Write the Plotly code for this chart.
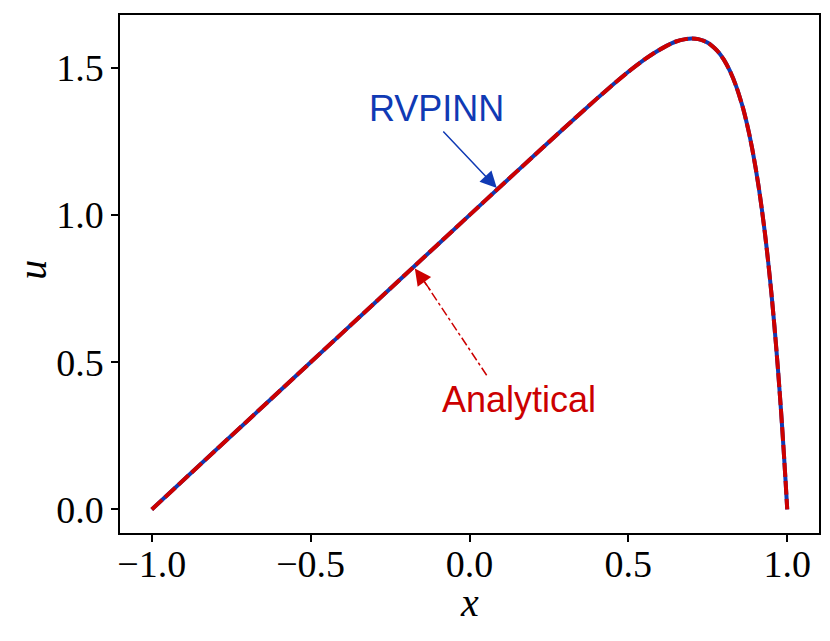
import plotly.graph_objects as go

# Values
x_vals = [-1.0, -0.8, -0.6, -0.4, -0.2, 0.0, 0.1, 0.2, 0.3, 0.4, 0.45, 0.5, 0.55, 0.58,
          0.62, 0.65, 0.68, 0.70, 0.72, 0.75, 0.78, 0.80, 0.82, 0.84, 0.86, 0.87, 0.88,
          0.89, 0.90, 0.91, 0.92, 0.93, 0.94, 0.95, 0.96, 0.97, 0.98, 0.985, 0.99, 0.995, 1.0]
u_analytical = [0.0, 0.2, 0.4, 0.6, 0.8, 1.0, 1.1, 1.199, 1.298, 1.395, 1.442, 1.487, 1.528, 1.550,
                1.575, 1.590, 1.598, 1.600, 1.598, 1.586, 1.558, 1.529, 1.489, 1.436, 1.367, 1.325, 1.278,
                1.224, 1.164, 1.097, 1.021, 0.937, 0.842, 0.737, 0.619, 0.488, 0.343, 0.264, 0.180, 0.093, 0.0]
u_rvpinn = [0.0, 0.2, 0.4, 0.6, 0.8, 1.0, 1.1, 1.199, 1.298, 1.395, 1.442, 1.487, 1.528, 1.550,
            1.575, 1.590, 1.598, 1.600, 1.598, 1.586, 1.558, 1.529, 1.489, 1.436, 1.367, 1.325, 1.278,
            1.224, 1.164, 1.097, 1.021, 0.937, 0.842, 0.737, 0.619, 0.488, 0.343, 0.264, 0.180, 0.093, 0.0]

x_ticks = [-1.0, -0.5, 0.0, 0.5, 1.0]
y_ticks = [0.0, 0.5, 1.0, 1.5]

RED = "rgb(204,0,0)"
BLUE = "rgb(16,58,180)"
SERIF = "Liberation Serif, DejaVu Serif, serif"
SANS = "Liberation Sans, Arial, sans-serif"

fig = go.Figure()
fig.add_trace(go.Scatter(x=x_vals, y=u_rvpinn, mode="lines", name="RVPINN",
                         line=dict(color=BLUE, width=4, shape="spline", smoothing=0.6)))
fig.add_trace(go.Scatter(x=x_vals, y=u_analytical, mode="lines", name="Analytical",
                         line=dict(color=RED, width=4, shape="spline", smoothing=0.6,
                                   dash="14px,4px")))

# RVPINN label and arrow
fig.add_annotation(x=-0.105, y=1.364, text="RVPINN", showarrow=False,
                   font=dict(family=SANS, size=36, color=BLUE))
fig.add_annotation(x=0.086, y=1.092, ax=-0.087, ay=1.289, axref="x", ayref="y",
                   xref="x", yref="y", text="", showarrow=True,
                   arrowhead=2, arrowsize=2.2, arrowwidth=1.5, arrowcolor=BLUE)

# Analytical label and dash-dot arrow
fig.add_annotation(x=0.156, y=0.374, text="Analytical", showarrow=False,
                   font=dict(family=SANS, size=36, color=RED))
fig.add_shape(type="line", x0=0.054, y0=0.456, x1=-0.155, y1=0.795,
              xref="x", yref="y", line=dict(color=RED, width=1.5, dash="dashdot"))
fig.add_annotation(x=-0.172, y=0.819, ax=-0.12, ay=0.74, axref="x", ayref="y",
                   xref="x", yref="y", text="", showarrow=True,
                   arrowhead=2, arrowsize=2.2, arrowwidth=1.5, arrowcolor=RED)

# Axis titles
fig.add_annotation(x=0.5, y=-0.134, xref="paper", yref="paper", text="<i>x</i>",
                   showarrow=False, xanchor="center", yanchor="middle",
                   font=dict(family=SERIF, size=40, color="black"))
fig.add_annotation(x=-0.1245, y=0.508, xref="paper", yref="paper", text="<i>u</i>",
                   showarrow=False, xanchor="center", yanchor="middle", textangle=-90,
                   font=dict(family=SERIF, size=40, color="black"))

axis_common = dict(showgrid=False, zeroline=False, showline=True, mirror=True,
                   linecolor="black", linewidth=1.5, ticks="outside", ticklen=7,
                   tickwidth=1.5, tickcolor="black", automargin=False,
                   tickfont=dict(family=SERIF, size=38, color="black"))

fig.update_xaxes(range=[-1.1, 1.1], tickvals=x_ticks,
                 ticktext=[f"{v:.1f}".replace("-", "\u2212") for v in x_ticks],
                 ticklabelstandoff=-10,
                 **axis_common)
fig.update_yaxes(range=[-0.08, 1.68], tickvals=y_ticks,
                 ticktext=[f"{v:.1f}" for v in y_ticks],
                 **axis_common)

fig.update_layout(width=830, height=641, showlegend=False,
                  plot_bgcolor="white", paper_bgcolor="white",
                  margin=dict(l=120, r=11, t=15, b=108))

fig.write_html("out.html", config={"displayModeBar": False},
               post_script="document.body.style.margin='0';document.body.style.overflow='hidden';")
